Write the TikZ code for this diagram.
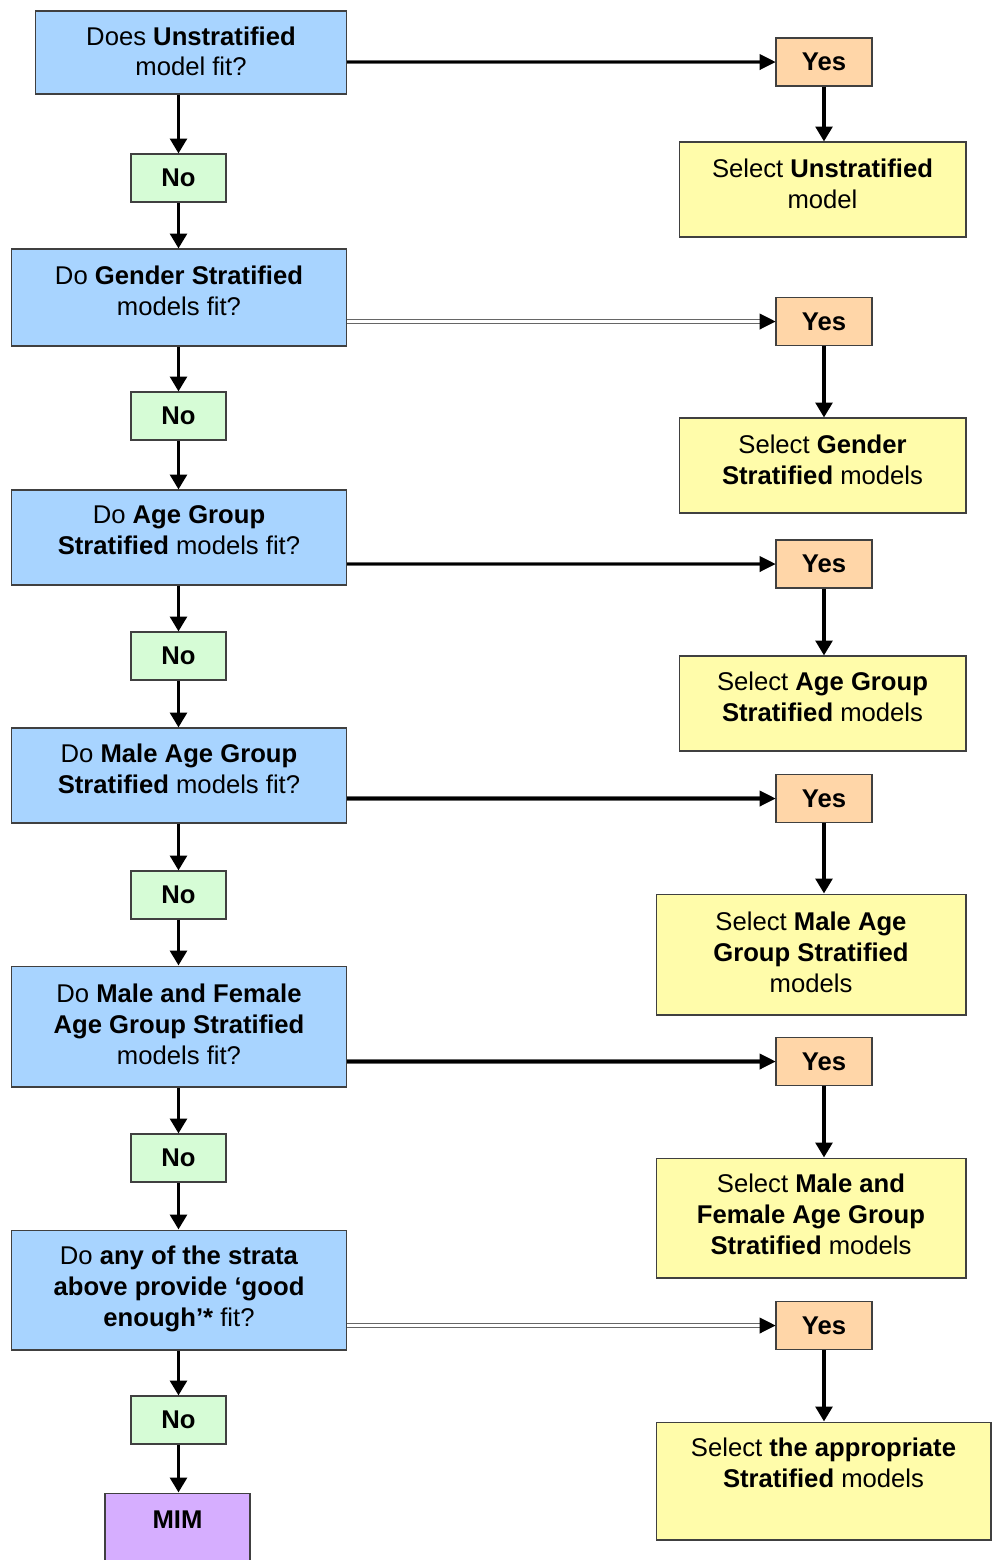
\documentclass[tikz,border=0pt]{standalone}
\usepackage{fontspec}
\setmainfont{Liberation Sans}
\usetikzlibrary{arrows.meta}
\definecolor{qblue}{RGB}{168,212,255}
\definecolor{nogreen}{RGB}{214,252,214}
\definecolor{yesorange}{RGB}{255,214,168}
\definecolor{selyellow}{RGB}{255,252,170}
\definecolor{mimpurple}{RGB}{214,174,255}
\newcommand{\flowfont}{\fontsize{14.6}{17.6}\selectfont}
\tikzset{
  box/.style={draw=black!75, line width=0.6pt, align=center, inner sep=2pt},
  qbox/.style={box, fill=qblue, minimum width=6.72cm},
  nobox/.style={box, fill=nogreen, minimum width=1.9cm, minimum height=0.96cm, font=\flowfont\bfseries},
  yesbox/.style={box, fill=yesorange, minimum width=1.92cm, minimum height=0.96cm, font=\flowfont\bfseries},
  selbox/.style={box, fill=selyellow},
  mimbox/.style={box, fill=mimpurple, font=\flowfont\bfseries},
  down/.style={line width=2pt, -{Triangle[length=8.5pt,width=9.5pt]}},
  across/.style={draw=black!60, line width=0.6pt, double=black, double distance=1.4pt,
    -{Triangle[length=9pt,width=9pt,black]}},
  acrossthin/.style={across, double=white}
}
\begin{document}
\begin{tikzpicture}[x=0.02cm, y=-0.02cm, font=\flowfont]
    \clip (0,0) rectangle (1000,1560);
    \node[qbox, minimum width=6.24cm, minimum height=1.66cm, text depth=1.5pt] (q1) at (191,52.5) {Does \textbf{Unstratified}\\model fit?};
    \node[nobox] (no1) at (178.5,178) {No};
    \node[qbox, minimum height=1.94cm, text depth=8pt] (q2) at (179,297.5) {Do \textbf{Gender Stratified}\\models fit?};
    \node[nobox] (no2) at (178.5,416) {No};
    \node[qbox, minimum height=1.9cm, text depth=8pt] (q3) at (179,537.5) {Do \textbf{Age Group}\\\textbf{Stratified} models fit?};
    \node[nobox] (no3) at (178.5,656) {No};
    \node[qbox, minimum height=1.9cm, text depth=8pt] (q4) at (179,775.5) {Do \textbf{Male Age Group}\\\textbf{Stratified} models fit?};
    \node[nobox] (no4) at (178.5,895) {No};
    \node[qbox, minimum height=2.42cm, text depth=3pt] (q5) at (179,1026.5) {Do \textbf{Male and Female}\\\textbf{Age Group Stratified}\\models fit?};
    \node[nobox] (no5) at (178.5,1158) {No};
    \node[qbox, minimum height=2.4cm, text depth=4.5pt] (q6) at (179,1290) {Do \textbf{any of the strata}\\\textbf{above provide ‘good}\\\textbf{enough’*} fit?};
    \node[nobox] (no6) at (178.5,1420) {No};
    \node[mimbox, minimum width=2.9cm, minimum height=2.14cm, text depth=31pt] (mim) at (177.5,1546.5) {MIM};
    \node[yesbox] (yes1) at (824,62) {Yes};
    \node[selbox, minimum width=5.74cm, minimum height=1.9cm, text depth=7pt] (sel1) at (822.5,189.5) {Select \textbf{Unstratified}\\model};
    \node[yesbox] (yes2) at (824,321.5) {Yes};
    \node[selbox, minimum width=5.74cm, minimum height=1.9cm, text depth=7pt] (sel2) at (822.5,465.5) {Select \textbf{Gender}\\\textbf{Stratified} models};
    \node[yesbox] (yes3) at (824,564) {Yes};
    \node[selbox, minimum width=5.74cm, minimum height=1.9cm, text depth=7.5pt] (sel3) at (822.5,703.5) {Select \textbf{Age Group}\\\textbf{Stratified} models};
    \node[yesbox] (yes4) at (824,798.5) {Yes};
    \node[selbox, minimum width=6.2cm, minimum height=2.42cm, text depth=2.5pt] (sel4) at (811,954.5) {Select \textbf{Male Age}\\\textbf{Group Stratified}\\models};
    \node[yesbox] (yes5) at (824,1061.5) {Yes};
    \node[selbox, minimum width=6.2cm, minimum height=2.4cm, text depth=4pt] (sel5) at (811,1218) {Select \textbf{Male and}\\\textbf{Female Age Group}\\\textbf{Stratified} models};
    \node[yesbox] (yes6) at (824,1325.5) {Yes};
    \node[selbox, minimum width=6.7cm, minimum height=2.36cm, text depth=21pt] (sel6) at (823.5,1481) {Select \textbf{the appropriate}\\\textbf{Stratified} models};
    \foreach \i/\j in {1/2,2/3,3/4,4/5,5/6} {
        \draw[down] (no\i |- q\i.south) -- (no\i.north);
        \draw[down] (no\i.south) -- (no\i |- q\j.north);
    }
    \draw[down] (no6 |- q6.south) -- (no6.north);
    \draw[down] (no6.south) -- (no6 |- mim.north);
    \foreach \i in {1,...,6}
        \draw[down] (yes\i.south) -- (yes\i.south |- sel\i.north);
    \foreach \i in {1,3,4,5}
        \draw[across] (q\i.east |- yes\i.west) -- (yes\i.west);
    \foreach \i in {2,6}
        \draw[acrossthin] (q\i.east |- yes\i.west) -- (yes\i.west);
\end{tikzpicture}
\end{document}
